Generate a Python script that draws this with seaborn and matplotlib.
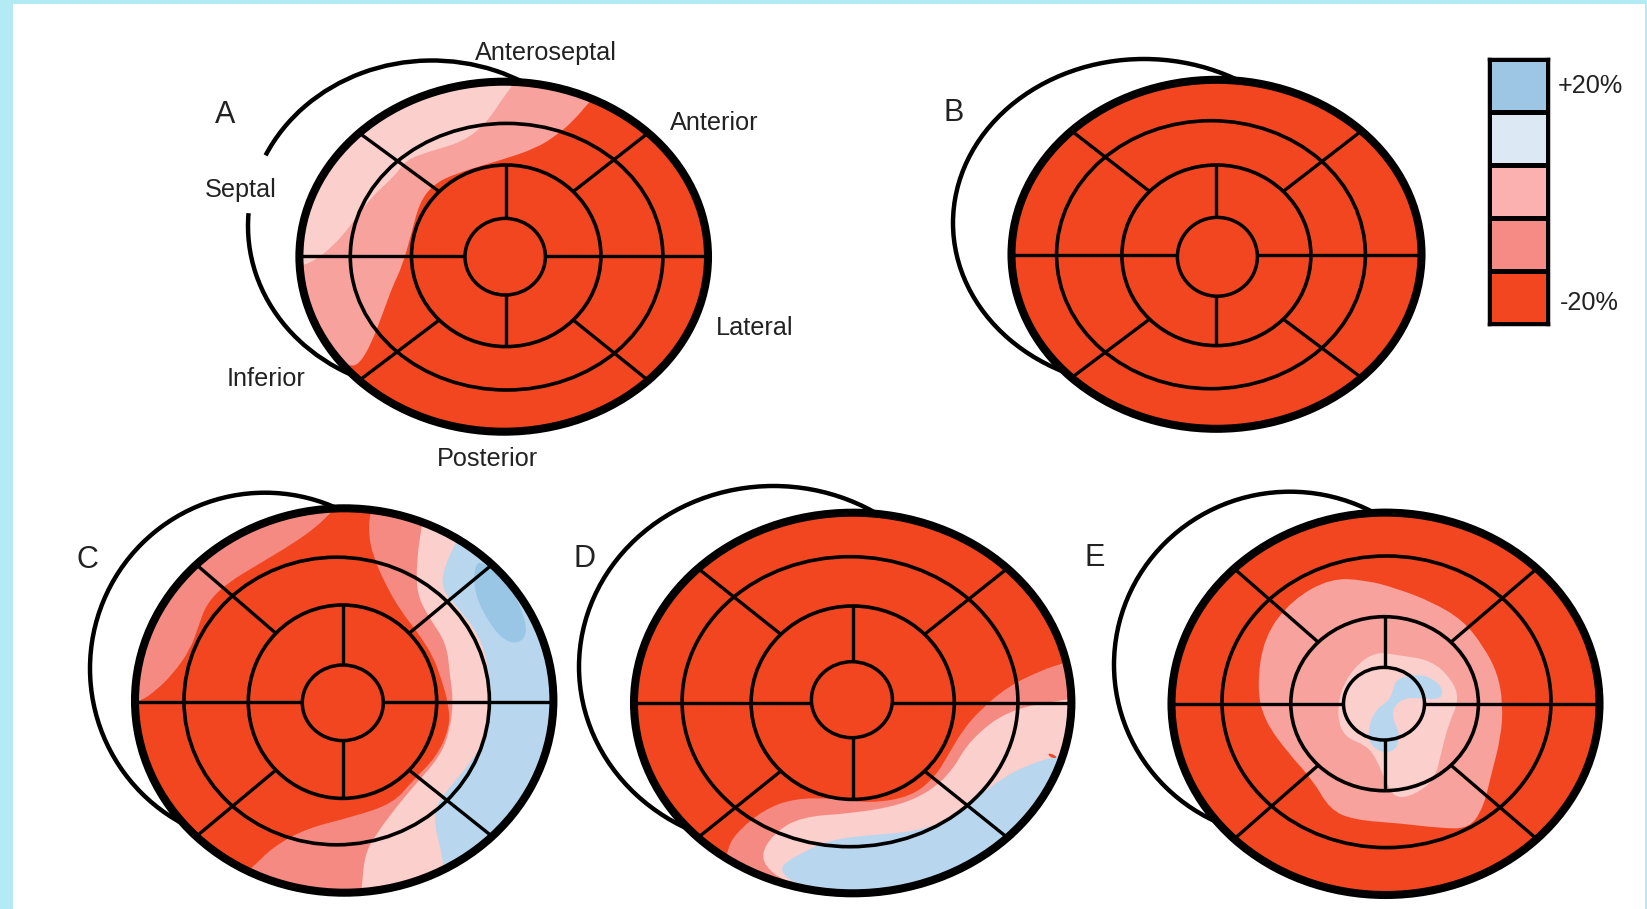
import numpy as np
import matplotlib
matplotlib.use('Agg')
import matplotlib.pyplot as plt
from matplotlib.colors import ListedColormap
from matplotlib.patches import Arc, Ellipse, PathPatch, Rectangle
from matplotlib.path import Path
import seaborn as sns

# colours
RED = '#F14620'
PINK_DARK = '#F58A82'
PINK_MID = '#F7A29C'
PINK_LIGHT = '#FBCFCB'
BLUE = '#B8D7EE'
BLUE_DARK = '#9AC6E6'
BAND = '#B4EAF3'

legend_levels = [5, 4, 3, 2, 1]
legend_colors = ['#F14620', '#F68A84', '#FBB1B0', '#DCE8F4', '#9DC6E5']
legend_labels = ['+20%', '-20%']

panel_names = ['A', 'B', 'C', 'D', 'E']
wall_names = ['Anteroseptal', 'Anterior', 'Septal', 'Lateral', 'Inferior', 'Posterior']

# ellipses as cx, cy, rx, ry
outer = [(503.7, 256.7, 204.3, 175), (1216.5, 254.3, 205, 174.5), (344.2, 700.5, 209.2, 192.2),
         (852.7, 703, 218.7, 190.3), (1385.5, 703.8, 214, 191.2)]
ring3 = [(506.6, 256.7, 156.3, 133.3), (1211, 254.7, 154.4, 134), (336.7, 701, 152.7, 143.8),
         (850, 701.7, 167.9, 145), (1386.5, 701.8, 164.5, 145.8)]
ring2 = [(506.2, 255.8, 94.7, 90.8), (1216.4, 255.3, 94.5, 90.3), (342.5, 701.7, 94.2, 96.7),
         (852.7, 702.7, 101.6, 96.7), (1384.6, 703.7, 93.8, 87)]
core = [(505.2, 256.7, 40.2, 38.3), (1217.4, 256.8, 40, 39.4), (342.8, 702.8, 40.5, 37.8),
        (851.9, 699.7, 40.5, 38), (1384, 703.7, 40.5, 36.3)]
back = [(432, 226, 184, 165.5), (1144, 223, 191, 164), (265, 668.5, 175, 175.8),
        (773.5, 666.7, 194.5, 180.7), (1290, 664.7, 176, 173)]

a_mid = [(1110, 200), (1070, 245), (1030, 300), (985, 345), (930, 385), (840, 420), (720, 460), (660, 495), (625, 550),
         (605, 640), (580, 740), (555, 800), (530, 880), (500, 970), (470, 1030), (445, 1040), (415, 1020),
         (200, 900), (200, 200), (1000, 60)]
a_light = [(890, 150), (870, 195), (840, 240), (800, 310), (740, 365), (650, 395), (590, 420), (560, 470), (500, 530),
           (450, 610), (400, 680), (330, 740), (200, 760), (200, 200), (800, 60)]

c_left = [(850, 90), (810, 130), (770, 170), (700, 220), (600, 280), (500, 340), (440, 400), (415, 470), (390, 540),
          (340, 610), (290, 660), (240, 695), (130, 730), (130, 100), (700, 30)]
c_dark = [(950, 60), (930, 130), (925, 190), (940, 260), (975, 340), (1020, 420), (1075, 490), (1120, 560), (1145, 630),
          (1165, 700), (1170, 770), (1130, 860), (1060, 930), (1000, 1000), (880, 1040), (740, 1075), (640, 1130),
          (580, 1190), (520, 1240), (700, 1400), (1600, 1400), (1650, 700), (1600, 40)]
c_light = [(1095, 100), (1085, 170), (1070, 270), (1070, 370), (1105, 440), (1160, 520), (1170, 620), (1180, 690),
           (1170, 780), (1140, 860), (1060, 950), (1010, 1010), (950, 1090), (915, 1150), (905, 1250), (900, 1340),
           (1600, 1400), (1650, 700), (1600, 40)]
c_blue = [(1215, 170), (1185, 220), (1150, 300), (1145, 360), (1200, 420), (1260, 500), (1285, 590), (1295, 690),
          (1280, 800), (1230, 880), (1170, 950), (1125, 1010), (1125, 1070), (1140, 1130), (1150, 1180), (1155, 1270),
          (1600, 1350), (1650, 700), (1550, 100)]
c_blue2 = [(1245, 270), (1240, 370), (1300, 480), (1350, 522), (1395, 510), (1400, 460), (1360, 360), (1290, 290)]

d_dark = [(1510, 565), (1460, 580), (1400, 600), (1300, 650), (1220, 720), (1170, 780), (1130, 850), (1090, 920),
          (1020, 980), (900, 1000), (800, 985), (680, 985), (590, 1020), (510, 1090), (485, 1140), (480, 1190),
          (650, 1350), (1500, 1350), (1650, 1000), (1650, 560)]
d_light = [(1530, 680), (1460, 690), (1300, 720), (1190, 810), (1140, 900), (1080, 960), (990, 1005), (850, 1030),
           (700, 1040), (620, 1090), (580, 1160), (620, 1215), (680, 1240), (850, 1340), (1500, 1350), (1650, 1000),
           (1650, 680)]
d_blue = [(1500, 840), (1440, 860), (1370, 880), (1290, 920), (1200, 990), (1130, 1050), (1030, 1085), (900, 1095),
          (780, 1110), (680, 1160), (635, 1195), (670, 1235), (750, 1260), (900, 1340), (1500, 1350), (1650, 1000)]
d_speck = [(1418, 848), (1442, 858), (1440, 866), (1420, 860)]

e_mid = [(660, 325), (760, 330), (850, 355), (950, 395), (1040, 450), (1100, 530), (1140, 610), (1155, 700),
         (1150, 800), (1120, 920), (1100, 1010), (1060, 1075), (980, 1075), (860, 1060), (730, 1050), (660, 1020),
         (610, 930), (540, 850), (470, 750), (450, 650), (470, 500), (550, 390)]
e_light = [(790, 545), (850, 555), (950, 570), (1010, 630), (1030, 690), (1000, 760), (980, 840), (960, 930),
           (900, 975), (850, 985), (825, 950), (790, 860), (760, 825), (700, 800), (680, 740), (690, 660), (730, 590)]
e_blue = [(850, 625), (920, 610), (975, 640), (985, 680), (950, 690), (880, 680), (840, 710), (840, 750),
          (860, 790), (850, 840), (810, 850), (770, 820), (770, 770), (790, 720), (830, 690), (840, 660)]

# crop each zone list was read from: x0, y0, x scale, y scale
crops = {'A': (180, 20, 2.613, 3), 'C': (60, 470, 3, 3), 'D': (560, 470, 2.904, 3), 'E': (1100, 470, 2.867, 3)}
zones = {
    'A': [(a_mid, PINK_MID), (a_light, PINK_LIGHT)],
    'B': [],
    'C': [(c_left, PINK_DARK), (c_dark, PINK_DARK), (c_light, PINK_LIGHT), (c_blue, BLUE), (c_blue2, BLUE_DARK)],
    'D': [(d_dark, PINK_DARK), (d_light, PINK_LIGHT), (d_blue, BLUE), (d_speck, RED)],
    'E': [(e_mid, PINK_MID), (e_light, PINK_LIGHT), (e_blue, BLUE)],
}

panel_label_pos = [(224.8, 115), (953.8, 113), (87, 560), (584, 559), (1094.5, 558)]
wall_label_pos = [(546, 53), (714, 122.5), (240.5, 190.5), (755, 328), (265.7, 379.5), (487, 458.5)]

sns.set_theme(style='white')
plt.rcParams['font.family'] = ['Liberation Sans', 'DejaVu Sans']


def smooth_path(points, crop):
    x0, y0, sx, sy = crop
    p = np.array(points, dtype=float)
    p = np.column_stack([x0 + p[:, 0] / sx, y0 + p[:, 1] / sy])
    nxt = np.roll(p, -1, axis=0)
    mids = (p + nxt) / 2
    verts = [mids[-1]]
    codes = [Path.MOVETO]
    for ctrl, mid in zip(p, mids):
        verts += [ctrl, mid]
        codes += [Path.CURVE3, Path.CURVE3]
    return Path(verts, codes)


def on_ellipse(e, deg):
    cx, cy, rx, ry = e
    t = np.radians(deg)
    return cx + rx * np.cos(t), cy + ry * np.sin(t)


def draw_ring(ax, e, lw):
    cx, cy, rx, ry = e
    ax.add_patch(Ellipse((cx, cy), 2 * rx, 2 * ry, fill=False, ec='black', lw=lw, zorder=5))


def spoke(ax, p, q, lw=2.4):
    ax.plot([p[0], q[0]], [p[1], q[1]], color='black', lw=lw, solid_capstyle='butt', zorder=4)


fig = plt.figure(figsize=(16.47, 9.09), dpi=100, facecolor=BAND)
ax = fig.add_axes([0, 0, 1, 1])
ax.set_xlim(0, 1647)
ax.set_ylim(909, 0)
ax.axis('off')
ax.add_patch(Rectangle((13, 4), 1632, 905, fc='white', ec='none', zorder=0))

for i, name in enumerate(panel_names):
    cx, cy, rx, ry = back[i]
    if name == 'A':
        # gap in the arc for the Septal label
        ax.add_patch(Arc((cx, cy), 2 * rx, 2 * ry, theta1=203, theta2=184 + 360, ec='black', lw=3.2, zorder=1))
    else:
        ax.add_patch(Ellipse((cx, cy), 2 * rx, 2 * ry, fill=False, ec='black', lw=3.2, zorder=1))

    ox, oy, orx, ory = outer[i]
    body = Ellipse((ox, oy), 2 * orx, 2 * ory, fc=RED, ec='none', zorder=2)
    ax.add_patch(body)
    for pts, col in zones[name]:
        patch = PathPatch(smooth_path(pts, crops[name]), fc=col, ec='none', zorder=3)
        ax.add_patch(patch)
        patch.set_clip_path(body)

    for deg in [45, 135, 225, 315]:
        spoke(ax, on_ellipse(ring2[i], deg), on_ellipse(outer[i], deg))
    # straight cross through the middle of the bullseye
    mx, my = ring2[i][0], ring2[i][1]
    spoke(ax, (ox - orx, my), (core[i][0] - core[i][2], my))
    spoke(ax, (core[i][0] + core[i][2], my), (ox + orx, my))
    spoke(ax, (mx, my - ring2[i][3]), (mx, core[i][1] - core[i][3]))
    spoke(ax, (mx, core[i][1] + core[i][3]), (mx, my + ring2[i][3]))

    draw_ring(ax, core[i], 2.5)
    draw_ring(ax, ring2[i], 2.6)
    draw_ring(ax, ring3[i], 2.6)
    draw_ring(ax, outer[i], 5.8)

    lx, ly = panel_label_pos[i]
    ax.text(lx, ly, name, fontsize=22, color='#222222', ha='center', va='center')

for label, (lx, ly) in zip(wall_names, wall_label_pos):
    ax.text(lx, ly, label, fontsize=18.2, color='#222222', ha='center', va='center')

# colour key
cax = fig.add_axes([1489.3 / 1647, 1 - 324 / 909, 59 / 1647, 264.7 / 909])
key = np.array(legend_levels)[:, None]
sns.heatmap(key, ax=cax, cmap=ListedColormap(legend_colors), cbar=False, xticklabels=False, yticklabels=False,
            linewidths=2.5, linecolor='black')
for side in cax.spines.values():
    side.set_visible(True)
    side.set_color('black')
    side.set_linewidth(2.5)
ax.text(1558, 86, legend_labels[0], fontsize=18.2, color='#222222', ha='left', va='center')
ax.text(1560, 302.7, legend_labels[1], fontsize=18.2, color='#222222', ha='left', va='center')

fig.savefig('out.png', dpi=100, facecolor=BAND)
